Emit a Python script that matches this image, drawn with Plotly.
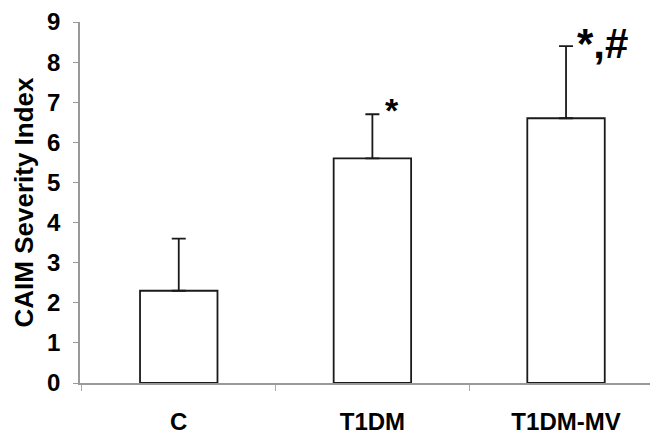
import plotly.graph_objects as go

categories = ["C", "T1DM", "T1DM-MV"]
means = [2.3, 5.6, 6.6]
errors_plus = [1.3, 1.1, 1.8]
sig_labels = ["", "*", "*,#"]
y_ticks = [0, 1, 2, 3, 4, 5, 6, 7, 8, 9]

FONT = "Liberation Sans, Arial, sans-serif"

fig = go.Figure()
fig.add_trace(go.Bar(
    x=categories,
    y=means,
    width=0.40,
    marker=dict(color="white", line=dict(color="#1a1a1a", width=1.8)),
    error_y=dict(type="data", symmetric=False, array=errors_plus,
                 arrayminus=[0] * len(means), color="#1a1a1a",
                 thickness=1.8, width=7),
    showlegend=False,
))

for cat, m, e, lab in zip(categories, means, errors_plus, sig_labels):
    if lab:
        fig.add_annotation(x=cat, y=m + e, text="<b>" + lab + "</b>",
                           showarrow=False, xref="x", yref="y",
                           xanchor="left", yanchor="middle",
                           xshift=11 if len(lab) == 1 else 9,
                           yshift=4 if len(lab) == 1 else 3,
                           font=dict(family=FONT, size=34 if len(lab) == 1 else 42,
                                     color="black"))

fig.add_annotation(xref="paper", yref="paper", x=0, y=0.5, xshift=-57,
                   text="<b>CAIM Severity Index</b>", textangle=-90,
                   showarrow=False, xanchor="center", yanchor="middle",
                   font=dict(family=FONT, size=26, color="black"))

fig.update_layout(
    width=658, height=438,
    margin=dict(l=72, r=14, t=14, b=63),
    paper_bgcolor="white", plot_bgcolor="white",
    bargap=0.6,
    font=dict(family=FONT, color="black"),
)
fig.update_xaxes(
    type="category",
    range=[-0.51, 2.444],
    automargin=False,
    showline=True, linecolor="#999999", linewidth=1.5,
    ticks="outside", tickson="boundaries", ticklen=6, tickcolor="#aaaaaa",
    tickfont=dict(family=FONT, size=24, color="black"),
    ticktext=["<b>" + c + "</b>" for c in categories],
    tickvals=categories,
    ticklabelstandoff=16,
    showgrid=False, zeroline=False,
)
fig.update_yaxes(
    range=[0, 9],
    automargin=False,
    tickvals=y_ticks,
    ticktext=["<b>%d</b>" % v for v in y_ticks],
    showline=True, linecolor="#999999", linewidth=1.5,
    ticks="outside", ticklen=5, tickcolor="#999999",
    tickfont=dict(family=FONT, size=24, color="black"),
    ticklabelstandoff=8,
    showgrid=False, zeroline=False,
)

fig.write_html("out.html")
